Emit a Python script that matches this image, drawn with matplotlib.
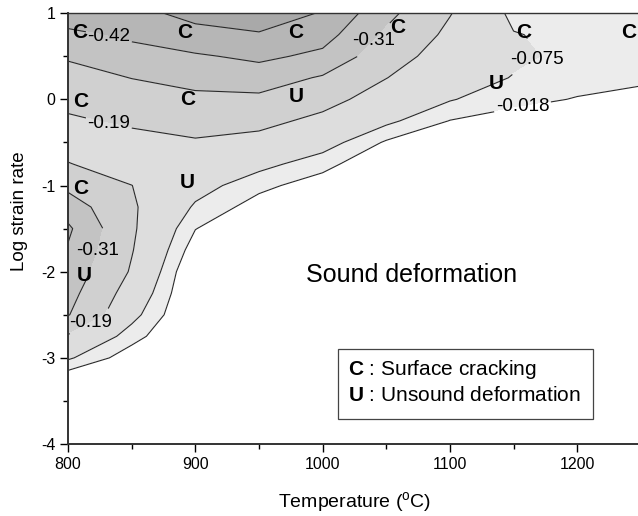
import numpy as np
import matplotlib
matplotlib.use("Agg")
import matplotlib.pyplot as plt
from matplotlib.patches import Rectangle
from matplotlib.ticker import MultipleLocator

plt.rcParams['font.family'] = ['Liberation Sans', 'DejaVu Sans']
plt.rcParams['mathtext.fontset'] = 'custom'
plt.rcParams['mathtext.rm'] = 'Liberation Sans'
plt.rcParams['mathtext.bf'] = 'Liberation Sans:bold'
plt.rcParams['axes.unicode_minus'] = False
plt.rcParams['contour.negative_linestyle'] = 'solid'

#%% instability parameter on the test grid (T in C, log strain rate)
temp = [800, 850, 900, 950, 1000, 1050, 1100, 1150, 1200, 1250]
log_rate = [1.0, 0.75, 0.5, 0.25, 0.0, -0.25, -0.5, -0.75, -1.0, -1.25, -1.5,
            -1.75, -2.0, -2.25, -2.5, -2.75, -3.0, -3.25, -3.5, -3.75, -4.0]
xi = [
    [-0.480, -0.500, -0.560, -0.570, -0.525, -0.340, -0.195, -0.055, -0.050, -0.050],
    [-0.396, -0.441, -0.499, -0.524, -0.463, -0.292, -0.166, -0.079, -0.055, -0.053],
    [-0.322, -0.377, -0.407, -0.443, -0.395, -0.241, -0.137, -0.087, -0.060, -0.055],
    [-0.269, -0.312, -0.345, -0.363, -0.299, -0.192, -0.108, -0.072, -0.038, -0.029],
    [-0.221, -0.259, -0.286, -0.288, -0.227, -0.140, -0.080, -0.033, -0.015, 0.000],
    [-0.174, -0.208, -0.230, -0.220, -0.163, -0.091, -0.016, 0.004, 0.019, 0.033],
    [-0.149, -0.154, -0.180, -0.156, -0.107, -0.010, 0.031, 0.040, 0.042, 0.043],
    [-0.194, -0.141, -0.142, -0.097, -0.040, 0.040, 0.052, 0.050, 0.050, 0.050],
    [-0.282, -0.191, -0.105, -0.035, 0.014, 0.052, 0.056, 0.056, 0.056, 0.056],
    [-0.370, -0.204, -0.065, 0.010, 0.052, 0.056, 0.060, 0.060, 0.060, 0.060],
    [-0.437, -0.205, -0.020, 0.050, 0.056, 0.060, 0.065, 0.065, 0.065, 0.065],
    [-0.411, -0.196, 0.016, 0.055, 0.060, 0.065, 0.070, 0.070, 0.070, 0.070],
    [-0.380, -0.179, 0.050, 0.060, 0.065, 0.070, 0.075, 0.075, 0.075, 0.075],
    [-0.348, -0.139, 0.055, 0.065, 0.070, 0.075, 0.080, 0.080, 0.080, 0.080],
    [-0.316, -0.099, 0.060, 0.070, 0.075, 0.080, 0.085, 0.085, 0.085, 0.085],
    [-0.179, -0.043, 0.065, 0.075, 0.080, 0.085, 0.090, 0.090, 0.090, 0.090],
    [-0.085, 0.018, 0.070, 0.080, 0.085, 0.090, 0.095, 0.095, 0.095, 0.095],
    [0.030, 0.062, 0.075, 0.085, 0.090, 0.095, 0.100, 0.100, 0.100, 0.100],
    [0.080, 0.075, 0.080, 0.090, 0.095, 0.100, 0.100, 0.100, 0.100, 0.100],
    [0.095, 0.090, 0.090, 0.095, 0.100, 0.100, 0.100, 0.100, 0.100, 0.100],
    [0.100, 0.100, 0.100, 0.100, 0.100, 0.100, 0.100, 0.100, 0.100, 0.100],
]

levels = [-0.53, -0.42, -0.31, -0.19, -0.075, -0.018]
label_levels = [-0.42, -0.31, -0.19, -0.075, -0.018]
label_pos = [(832, 0.72), (1042, 0.66), (832, -0.28), (827, -1.78),
             (818, -2.6), (1175, 0.30), (1157, -0.09)]

# failure marks from the specimens
marks = ['C', 'C', 'C', 'C', 'C', 'C', 'C', 'C', 'U', 'U', 'C', 'U', 'U']
mark_t = [809, 892, 979, 1059, 1158, 1240, 810, 894, 979, 1136, 810, 894, 813]
mark_r = [0.78, 0.78, 0.78, 0.83, 0.78, 0.78, -0.02, 0.0, 0.03, 0.18, -1.04, -0.96, -2.04]

shades = ['#a9a9a9', '#b6b6b6', '#c3c3c3', '#d0d0d0', '#dddddd', '#ececec', '#ffffff']

#%%
T, R = np.meshgrid(temp, log_rate)
Z = np.array(xi)

fig = plt.figure(figsize=(6.38, 5.16), dpi=100)
ax = fig.add_axes([0.1066, 0.1395, 0.898, 0.835])

ax.contourf(T, R, Z, levels=[-1.0] + levels + [1.0], colors=shades)
# innermost level has no label, draw it on its own
ax.contour(T, R, Z, levels=[l for l in levels if l not in label_levels],
           colors='#2a2a2a', linewidths=0.8, linestyles='solid')
cs = ax.contour(T, R, Z, levels=label_levels, colors='#2a2a2a', linewidths=0.8,
                linestyles='solid')
lbls = ax.clabel(cs, fmt=lambda v: f'{v:g}', fontsize=13.5,
                 inline=True, inline_spacing=2, manual=label_pos)
for t in lbls:
    t.set_rotation(0)
    t.set_color('black')
    t.set_clip_on(False)

for m, x, y in zip(marks, mark_t, mark_r):
    ax.text(x, y, m, fontsize=15, fontweight='bold', ha='center', va='center', zorder=5)

ax.text(1070, -2.04, 'Sound deformation', fontsize=18, ha='center', va='center')

ax.add_patch(Rectangle((1012, -3.71), 200.5, 0.81, fc='white', ec='#444444', lw=0.9, zorder=4))
ax.text(1020, -3.14, r'$\mathbf{C}$ : Surface cracking', fontsize=15, ha='left', va='center', zorder=5)
ax.text(1020, -3.44, r'$\mathbf{U}$ : Unsound deformation', fontsize=15, ha='left', va='center', zorder=5)

ax.set_xlim(800, 1250)
ax.set_ylim(-4, 1)
ax.set_xticks([800, 900, 1000, 1100, 1200])
ax.set_yticks([-4, -3, -2, -1, 0, 1])
ax.xaxis.set_minor_locator(MultipleLocator(50))
ax.yaxis.set_minor_locator(MultipleLocator(0.5))
ax.tick_params(which='major', direction='out', length=6, width=1, labelsize=11.5, pad=3)
ax.tick_params(which='minor', direction='out', length=3.5, width=1)
for s in ax.spines.values():
    s.set_linewidth(1.0)
    s.set_color('#333333')
ax.spines['left'].set_linewidth(1.4)
ax.spines['bottom'].set_linewidth(1.4)

ax.set_xlabel(r'Temperature ($^{\mathregular{o}}$C)', fontsize=14)
ax.set_ylabel('Log strain rate', fontsize=13.5)
ax.xaxis.set_label_coords(0.5, -0.108)
ax.yaxis.set_label_coords(-0.069, 0.54)

fig.savefig('out.png', dpi=100)
